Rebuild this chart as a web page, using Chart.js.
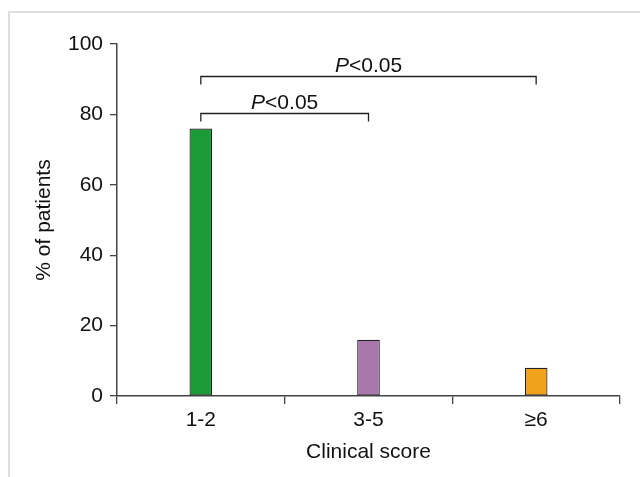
<!DOCTYPE html>
<html>
<head>
<meta charset="utf-8">
<script src="https://cdn.jsdelivr.net/npm/chart.js@4/dist/chart.umd.min.js"></script>
<style>
  html, body { margin: 0; padding: 0; background: #fff; overflow: hidden; }
  #frame { position: absolute; left: 8px; top: 11px; width: 1000px; height: 1000px; border: 2px solid #dedede; }
  #wrap { position: absolute; left: 0; top: 0; width: 640px; height: 477px; }
</style>
</head>
<body>
<div id="frame"></div>
<div id="wrap"><canvas id="Chart" width="640" height="477"></canvas></div>
<script>
// data
const categories = ['1-2', '3-5', '\u22656'];
const percents = [76, 16, 8];
const barColors = ['#1a9b38', '#a977ab', '#f1a11b'];

// significance brackets
const bracketFrom = [0, 0];
const bracketTo = [1, 2];
const bracketLevel = [80.5, 91];
const bracketLabel = ['<0.05', '<0.05'];

const fontFam = '"Liberation Sans", Arial, sans-serif';
const fs = 21;

const bracketPlugin = {
  id: 'brackets',
  afterDatasetsDraw(chart) {
    const ctx = chart.ctx;
    const x = chart.scales.x, y = chart.scales.y;
    ctx.save();
    ctx.strokeStyle = '#222';
    ctx.lineWidth = 1.3;
    for (let i = 0; i < bracketFrom.length; i++) {
      const x1 = x.getPixelForValue(bracketFrom[i]);
      const x2 = x.getPixelForValue(bracketTo[i]);
      const yy = Math.round(y.getPixelForValue(bracketLevel[i])) + 0.5;
      ctx.beginPath();
      ctx.moveTo(x1, yy + 8);
      ctx.lineTo(x1, yy);
      ctx.lineTo(x2, yy);
      ctx.lineTo(x2, yy + 8);
      ctx.stroke();

      // label: italic P followed by normal text
      ctx.fillStyle = '#111';
      ctx.textBaseline = 'alphabetic';
      ctx.font = 'italic ' + fs + 'px ' + fontFam;
      const wP = ctx.measureText('P').width;
      ctx.font = fs + 'px ' + fontFam;
      const wR = ctx.measureText(bracketLabel[i]).width;
      const cx = (x1 + x2) / 2;
      const start = cx - (wP + wR) / 2;
      ctx.font = 'italic ' + fs + 'px ' + fontFam;
      ctx.fillText('P', start, yy - 5);
      ctx.font = fs + 'px ' + fontFam;
      ctx.fillText(bracketLabel[i], start + wP, yy - 5);
    }
    ctx.restore();
  }
};

var ctx = document.getElementById('Chart').getContext('2d');
var chart = new Chart(ctx, {
  type: 'bar',
  data: {
    labels: categories,
    datasets: [{
      data: percents,
      backgroundColor: barColors,
      borderColor: '#222',
      borderWidth: 1.2,
      borderSkipped: false,
      categoryPercentage: 1,
      barPercentage: 0.135
    }]
  },
  options: {
    responsive: false,
    animation: false,
    layout: { padding: { top: 44, right: 20, bottom: 0, left: 0 } },
    plugins: { legend: { display: false }, tooltip: { enabled: false } },
    scales: {
      x: {
        grid: { offset: true, drawOnChartArea: false, drawTicks: true, tickLength: 8, color: '#444', lineWidth: 1.3 },
        border: { color: '#444', width: 1.5 },
        ticks: { color: '#111', font: { family: fontFam, size: fs }, padding: 4 },
        title: { display: true, text: 'Clinical score', color: '#111', font: { family: fontFam, size: fs }, padding: { top: 0, bottom: 12 } },
        afterFit(scale) { scale.height = 81; }
      },
      y: {
        min: 0,
        max: 100,
        ticks: { stepSize: 20, color: '#111', font: { family: fontFam, size: fs }, padding: 7 },
        grid: { drawOnChartArea: false, drawTicks: true, tickLength: 7, color: '#444', lineWidth: 1.3 },
        border: { color: '#444', width: 1.5 },
        title: { display: true, text: '% of patients', color: '#111', font: { family: fontFam, size: fs }, padding: { top: 32, bottom: 0 } },
        afterFit(scale) { scale.width = 117; }
      }
    }
  },
  plugins: [bracketPlugin]
});
</script>
</body>
</html>
